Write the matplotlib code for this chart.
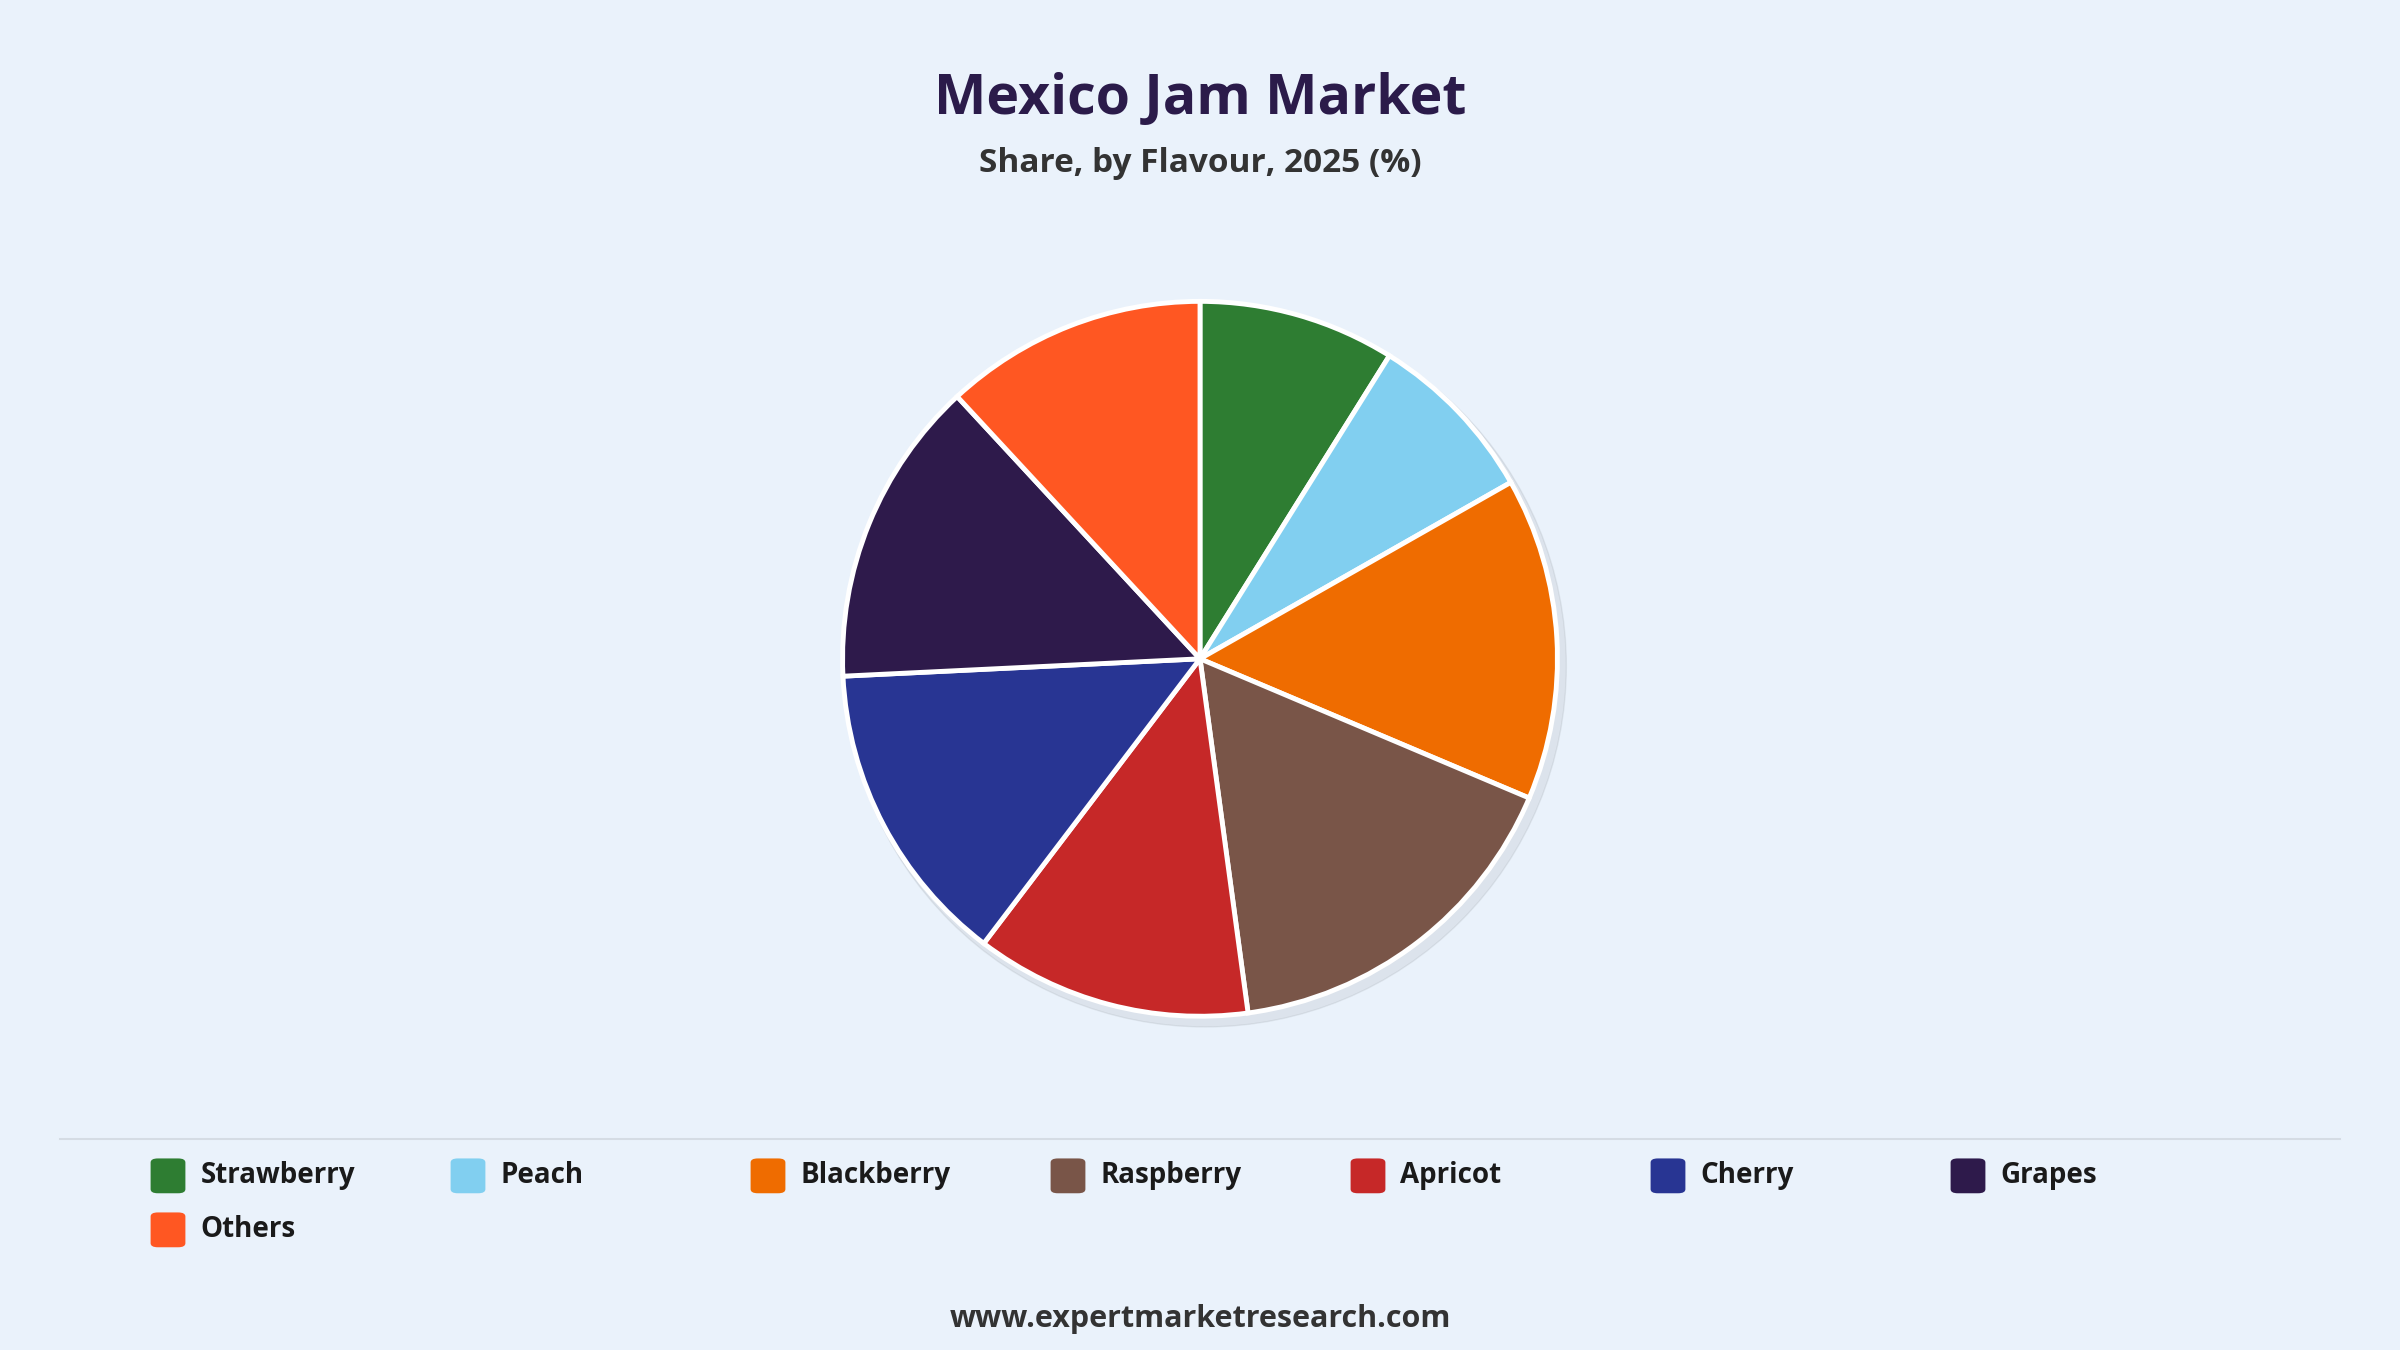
import matplotlib
matplotlib.use("Agg")
import matplotlib.pyplot as plt
from matplotlib.patches import FancyBboxPatch, Circle

categories = ["Strawberry", "Peach", "Blackberry", "Raspberry", "Apricot", "Cherry", "Grapes", "Others"]
shares = [8.9, 7.9, 14.6, 16.5, 12.5, 13.9, 13.9, 11.9]
colors = ["#2E7D32", "#81CFF0", "#EF6C00", "#795548", "#C62828", "#283593", "#2E1A4B", "#FF5722"]

BG = "#EAF2FB"
plt.rcParams['font.family'] = ['Open Sans', 'DejaVu Sans']

fig = plt.figure(figsize=(24, 13.5), dpi=100, facecolor=BG)

fig.text(0.5, 0.926, "Mexico Jam Market", ha="center", va="center", fontsize=40,
         fontweight="bold", color="#2B1B4A")
fig.text(0.5, 0.879, "Share, by Flavour, 2025 (%)", ha="center", va="center", fontsize=24,
         fontweight="bold", color="#333333")

h = 0.556
w = h * 13.5 / 24
ax = fig.add_axes([0.5 - w / 2, 0.512 - h / 2, w, h])
ax.set_facecolor(BG)
ax.add_patch(Circle((0.015, -0.02), 1.01, color="#000000", alpha=0.06, zorder=0))
ax.pie(shares, colors=colors, startangle=90, counterclock=False, radius=1,
       wedgeprops=dict(edgecolor="white", linewidth=3.5))
ax.set_xlim(-1.05, 1.05)
ax.set_ylim(-1.05, 1.05)
ax.set_aspect("equal")
ax.axis("off")

fig.add_artist(plt.Line2D([0.025, 0.975], [0.156, 0.156], color="#D5DCE4", linewidth=1.5))

xs = [0.070, 0.195, 0.320, 0.445, 0.570, 0.695, 0.820]
for i, (c, col) in enumerate(zip(categories, colors)):
    row = i // 7
    x = xs[i % 7]
    y = 0.129 - row * 0.04
    sw, sh = 0.0145, 0.0258
    fig.add_artist(FancyBboxPatch((x - sw / 2, y - sh / 2), sw, sh,
                                  boxstyle="round,pad=0,rounding_size=0.003",
                                  transform=fig.transFigure, facecolor=col, edgecolor="none"))
    fig.text(x + 0.0135, y, c, ha="left", va="center", fontsize=20,
             fontweight="bold", color="#1a1a1a")

fig.text(0.5, 0.023, "www.expertmarketresearch.com", ha="center", va="center",
         fontsize=22, fontweight="bold", color="#333333")

fig.savefig("out.png", dpi=100, facecolor=BG)
